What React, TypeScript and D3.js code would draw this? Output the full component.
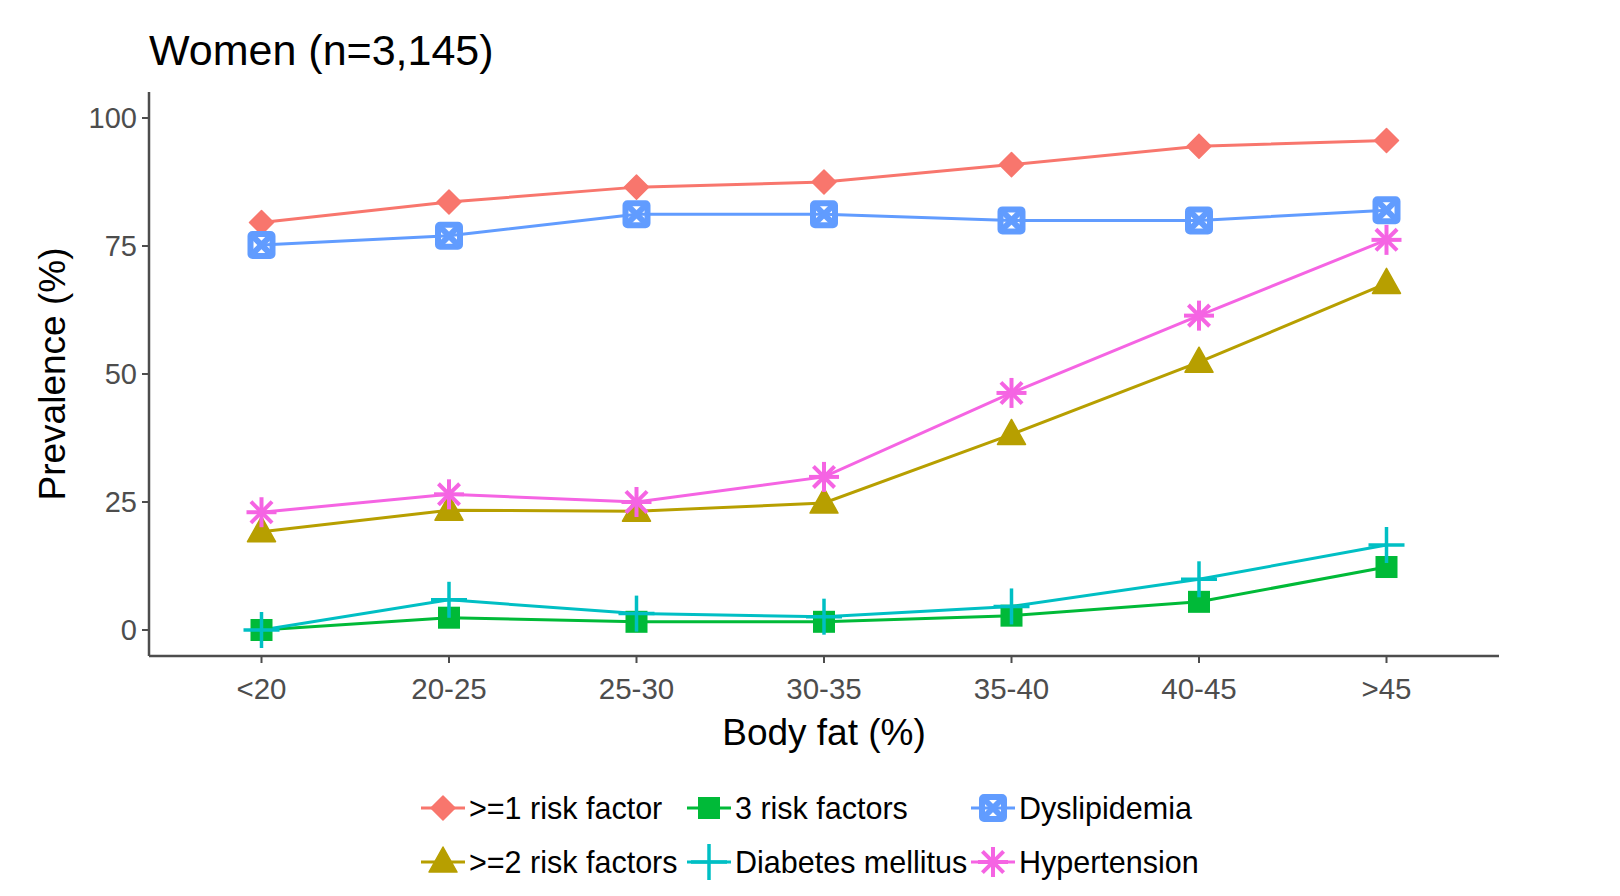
import React from "react";
import * as d3 from "d3";

// Body fat groups and prevalence (%)
const categories = ["<20", "20-25", "25-30", "30-35", "35-40", "40-45", ">45"];
const atLeastOne = [79.6, 83.6, 86.5, 87.5, 90.9, 94.5, 95.6];
const atLeastTwo = [19.2, 23.4, 23.2, 24.8, 38.2, 52.3, 67.7];
const threeRisk = [0, 2.4, 1.6, 1.6, 2.8, 5.5, 12.3];
const diabetes = [0, 5.9, 3.2, 2.6, 4.6, 9.9, 16.6];
const dyslipidemia = [75.2, 77, 81.2, 81.2, 80, 80, 82];
const hypertension = [23, 26.5, 25, 29.9, 46.3, 61.4, 76.2];
const yTicks = [0, 25, 50, 75, 100];

const seriesNames = [
  ">=1 risk factor",
  ">=2 risk factors",
  "3 risk factors",
  "Diabetes mellitus",
  "Dyslipidemia",
  "Hypertension",
];
const seriesValues = [atLeastOne, atLeastTwo, threeRisk, diabetes, dyslipidemia, hypertension];
const seriesColors = ["#F8766D", "#B79F00", "#00BA38", "#00BFC4", "#619CFF", "#F564E3"];
const seriesShapes = ["diamond", "triangle", "square", "plus", "squarecross", "asterisk"];

const width = 1620;
const height = 896;
const plot = { left: 149, right: 1499, top: 92, bottom: 656 };
const font = "'Liberation Sans', Arial, sans-serif";

const x = d3
  .scalePoint<string>()
  .domain(categories)
  .range([plot.left, plot.right])
  .padding(0.6);
const y = d3.scaleLinear().domain([-5.08, 105.08]).range([plot.bottom, plot.top]);

const line = d3
  .line<number>()
  .x((_, i) => x(categories[i]) as number)
  .y((d) => y(d));

function Marker({ shape, color, cx, cy }: { shape: string; color: string; cx: number; cy: number }) {
  const t = `translate(${cx},${cy})`;
  switch (shape) {
    case "diamond":
      return <path transform={t} d="M0,-12L12,0L0,12L-12,0Z" fill={color} stroke={color} strokeWidth={1.5} strokeLinejoin="round" />;
    case "triangle":
      return <path transform={t} d="M0,-15L14,10L-14,10Z" fill={color} stroke={color} strokeWidth={1.5} strokeLinejoin="round" />;
    case "square":
      return <rect transform={t} x={-11} y={-11} width={22} height={22} fill={color} />;
    case "plus":
      return (
        <g transform={t} stroke={color} strokeWidth={3.5}>
          <line x1={-18} y1={0} x2={18} y2={0} />
          <line x1={0} y1={-18} x2={0} y2={18} />
        </g>
      );
    case "squarecross":
      return (
        <g transform={t} stroke={color} strokeWidth={6} fill="none" strokeLinejoin="round">
          <rect x={-11} y={-11} width={22} height={22} rx={2} />
          <line x1={-10} y1={-10} x2={10} y2={10} />
          <line x1={-10} y1={10} x2={10} y2={-10} />
        </g>
      );
    case "asterisk":
      return (
        <g transform={t} stroke={color} strokeWidth={4}>
          <line x1={-15} y1={0} x2={15} y2={0} />
          <line x1={0} y1={-15} x2={0} y2={15} />
          <line x1={-10.6} y1={-10.6} x2={10.6} y2={10.6} />
          <line x1={-10.6} y1={10.6} x2={10.6} y2={-10.6} />
        </g>
      );
    default:
      return null;
  }
}

// legend: 3 columns x 2 rows, filled by column
const legendCols = [443, 709, 993];
const legendRows = [808, 862];

export default function App() {
  return (
    <div style={{ position: "absolute", left: 0, top: 0, background: "#fff" }}>
      <svg width={width} height={height} style={{ display: "block", fontFamily: font }}>
        <rect width={width} height={height} fill="#fff" />

        <text x={149} y={65} fontSize={43} fill="#000">
          Women (n=3,145)
        </text>

        {/* axes */}
        <g stroke="#4d4d4d" strokeWidth={2.5}>
          <line x1={plot.left} y1={plot.top} x2={plot.left} y2={plot.bottom} />
          <line x1={plot.left} y1={plot.bottom} x2={plot.right} y2={plot.bottom} />
          {yTicks.map((v) => (
            <line key={v} x1={plot.left - 7} x2={plot.left} y1={y(v)} y2={y(v)} strokeWidth={2} />
          ))}
          {categories.map((c) => (
            <line key={c} x1={x(c)} x2={x(c)} y1={plot.bottom} y2={plot.bottom + 7} strokeWidth={2} />
          ))}
        </g>
        {yTicks.map((v) => (
          <text key={v} x={plot.left - 12} y={y(v)} textAnchor="end" dominantBaseline="central" fontSize={29} fill="#4d4d4d">
            {v}
          </text>
        ))}
        {categories.map((c) => (
          <text key={c} x={x(c)} y={699} textAnchor="middle" fontSize={29.5} fill="#4d4d4d">
            {c}
          </text>
        ))}

        <text x={(plot.left + plot.right) / 2} y={745} textAnchor="middle" fontSize={37} fill="#000">
          Body fat (%)
        </text>
        <text
          transform={`translate(52,${(plot.top + plot.bottom) / 2}) rotate(-90)`}
          textAnchor="middle"
          dominantBaseline="central"
          fontSize={37}
          fill="#000"
        >
          Prevalence (%)
        </text>

        {/* lines then points */}
        {seriesValues.map((vals, i) => (
          <path key={seriesNames[i]} d={line(vals) as string} fill="none" stroke={seriesColors[i]} strokeWidth={3} />
        ))}
        {seriesValues.map((vals, i) =>
          vals.map((v, j) => (
            <Marker key={`${i}-${j}`} shape={seriesShapes[i]} color={seriesColors[i]} cx={x(categories[j]) as number} cy={y(v)} />
          ))
        )}

        {/* legend */}
        {seriesNames.map((name, i) => {
          const cx = legendCols[Math.floor(i / 2)];
          const cy = legendRows[i % 2];
          return (
            <g key={name}>
              <line x1={cx - 22} x2={cx + 22} y1={cy} y2={cy} stroke={seriesColors[i]} strokeWidth={3} />
              <Marker shape={seriesShapes[i]} color={seriesColors[i]} cx={cx} cy={cy} />
              <text x={cx + 26} y={cy} dominantBaseline="central" fontSize={30.5} fill="#000">
                {name}
              </text>
            </g>
          );
        })}
      </svg>
    </div>
  );
}
